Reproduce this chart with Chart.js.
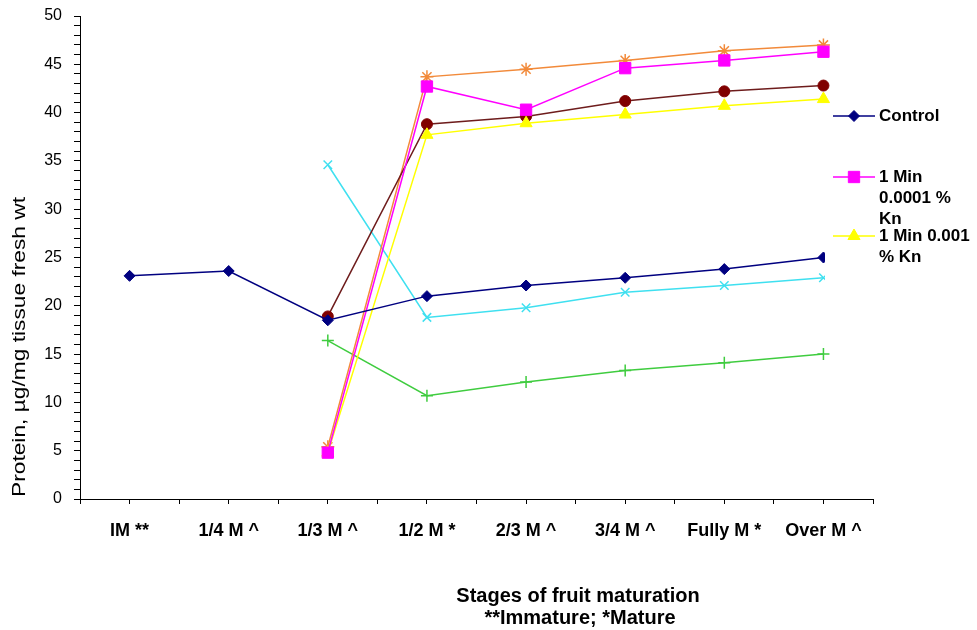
<!DOCTYPE html>
<html>
<head>
<meta charset="utf-8">
<script src="https://cdn.jsdelivr.net/npm/chart.js@4"></script>
<style>
  html, body { margin: 0; padding: 0; background: #fff; }
</style>
</head>
<body>
<canvas id="chart" width="977" height="630"></canvas>
<script>
// --- data ---
const stages = ['IM **', '1/4 M ^', '1/3 M ^', '1/2 M *', '2/3 M ^', '3/4 M ^', 'Fully M *', 'Over M ^'];
const control = [23.1, 23.6, 18.5, 21.0, 22.1, 22.9, 23.8, 25.0];
const kn0001 = [null, null, 4.8, 42.7, 40.3, 44.6, 45.4, 46.3];
const kn001 = [null, null, 4.8, 37.7, 38.9, 39.8, 40.7, 41.4];
const series4 = [null, null, 18.9, 38.8, 39.6, 41.2, 42.2, 42.8];
const series5 = [null, null, 5.4, 43.7, 44.5, 45.4, 46.4, 47.0];
const series6 = [null, null, 34.6, 18.8, 19.8, 21.4, 22.1, 22.9];
const series7 = [null, null, 16.4, 10.7, 12.1, 13.3, 14.1, 15.0];
const yLabels = [0, 5, 10, 15, 20, 25, 30, 35, 40, 45, 50];

const seriesNames = ['Control', '1 Min 0.0001 % Kn', '1 Min 0.001 % Kn', 'Series 4', 'Series 5', 'Series 6', 'Series 7'];
const legendLines = [['Control'], ['1 Min', '0.0001 %', 'Kn'], ['1 Min 0.001', '% Kn']];
const yTitle = 'Protein, µg/mg tissue fresh wt';
const xTitle = ['Stages of fruit maturation', '**Immature; *Mature'];

const FONT = "'Liberation Sans', Arial, sans-serif";

// each category sits in the middle of its slot (0.5, 1.5, ...)
function toPoints(values) {
    return values
        .map((v, i) => v == null ? null : { x: i + 0.5, y: v })
        .filter(p => p);
}

function makeSeries(label, values, color, style, radius, lineColor) {
    return {
        label,
        data: toPoints(values),
        borderColor: lineColor || color,
        borderWidth: 1.5,
        pointStyle: style,
        pointRadius: radius,
        pointBackgroundColor: color,
        pointBorderColor: color,
        pointBorderWidth: (style === 'cross' || style === 'crossRot' || style === 'star') ? 1.5 : 1,
        tension: 0,
        fill: false
    };
}

const datasets = [
    makeSeries(seriesNames[0], control, '#000080', 'rectRot', 5.5),
    makeSeries(seriesNames[1], kn0001, '#FF00FF', 'rect', 8),
    makeSeries(seriesNames[2], kn001, '#FFFF00', 'triangle', 7),
    makeSeries(seriesNames[3], series4, '#800000', 'circle', 5.5, '#6E1C1C'),
    makeSeries(seriesNames[4], series5, '#F28A3A', 'star', 6.5),
    makeSeries(seriesNames[5], series6, '#3FE0F0', 'crossRot', 6),
    makeSeries(seriesNames[6], series7, '#3FCC3F', 'cross', 6)
];

// legend (only first three entries are visible in the original) and axis titles
const extras = {
    id: 'extras',
    afterDatasetsDraw(chart) {
        const ctx = chart.ctx;
        ctx.save();
        ctx.fillStyle = '#fff';
        ctx.fillRect(825, 106, 152, 194);

        const entryY = [116, 177, 236];
        ctx.font = 'bold 17px ' + FONT;
        ctx.textBaseline = 'middle';
        ctx.textAlign = 'left';
        legendLines.forEach((lines, i) => {
            const ds = chart.data.datasets[i];
            const y = entryY[i];
            ctx.strokeStyle = ds.borderColor;
            ctx.lineWidth = 1.5;
            ctx.beginPath();
            ctx.moveTo(833, y);
            ctx.lineTo(875, y);
            ctx.stroke();
            ctx.fillStyle = ds.pointBackgroundColor;
            ctx.strokeStyle = ds.pointBorderColor;
            ctx.lineWidth = 1;
            Chart.helpers.drawPoint(ctx, { pointStyle: ds.pointStyle, radius: ds.pointRadius, rotation: 0, borderWidth: 1 }, 854, y);
            ctx.fillStyle = '#000';
            lines.forEach((t, j) => ctx.fillText(t, 879, y + j * 21));
        });
        ctx.restore();
    },
    afterDraw(chart) {
        const ctx = chart.ctx;
        ctx.save();
        ctx.fillStyle = '#000';
        ctx.textAlign = 'center';
        ctx.textBaseline = 'middle';

        // y title, stretched along its length like the source
        ctx.font = '18px ' + FONT;
        const w = ctx.measureText(yTitle).width;
        ctx.translate(20, 347);
        ctx.rotate(-Math.PI / 2);
        ctx.scale(300 / w, 1);
        ctx.fillText(yTitle, 0, 0);
        ctx.setTransform(1, 0, 0, 1, 0, 0);

        ctx.font = 'bold 20px ' + FONT;
        ctx.fillText(xTitle[0], 578, 596);
        ctx.fillText(xTitle[1], 580, 618);
        ctx.restore();
    }
};

new Chart(document.getElementById('chart').getContext('2d'), {
    type: 'line',
    data: { datasets },
    options: {
        responsive: false,
        animation: false,
        events: [],
        layout: { padding: { top: 16, right: 104, left: 0, bottom: 0 } },
        plugins: {
            legend: { display: false },
            tooltip: { enabled: false }
        },
        scales: {
            x: {
                type: 'linear',
                min: 0,
                max: 8,
                afterFit: s => { s.height = 131; },
                border: { color: '#000', width: 1 },
                grid: { drawOnChartArea: false, color: '#000', tickLength: 5 },
                ticks: {
                    stepSize: 0.5,
                    maxTicksLimit: 100,
                    autoSkip: false,
                    maxRotation: 0,
                    minRotation: 0,
                    padding: 16,
                    color: '#000',
                    font: { family: FONT, size: 18, weight: 'bold' },
                    callback: v => {
                        const i = v - 0.5;
                        return Number.isInteger(i) ? stages[i] : '';
                    }
                }
            },
            y: {
                min: 0,
                max: 50,
                afterFit: s => {
                    s.width = 80;
                    s.paddingTop = 0;
                    s.paddingBottom = 0;
                },
                border: { color: '#000', width: 1 },
                grid: { drawOnChartArea: false, color: '#000', tickLength: 6 },
                ticks: {
                    stepSize: 1,
                    maxTicksLimit: 100,
                    autoSkip: false,
                    padding: 12,
                    color: '#000',
                    font: { family: FONT, size: 16 },
                    callback: v => yLabels.includes(v) ? v : ''
                }
            }
        }
    },
    plugins: [extras]
});
</script>
</body>
</html>
